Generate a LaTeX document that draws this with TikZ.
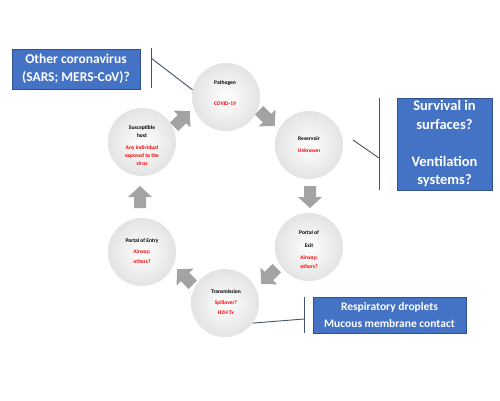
\documentclass[tikz,border=0pt]{standalone}
\usepackage{fontspec}
\setmainfont{Carlito}
\definecolor{boxblue}{HTML}{4472C4}
\definecolor{boxedge}{HTML}{2F528F}
\definecolor{calline}{HTML}{44546A}
\definecolor{arrowgray}{HTML}{A3A3A3}
\definecolor{valred}{HTML}{FF0000}
\begin{document}
\begin{tikzpicture}[x=1pt,y=-1pt,
  stage/.style={circle, minimum size=68pt, inner sep=0pt, shading=radial, inner color=white, outer color=black!11},
  namelbl/.style={inner sep=0pt, align=center, font=\fontsize{5.5}{8}\selectfont\bfseries, text=black},
  vallbl/.style={inner sep=0pt, align=center, font=\fontsize{5.5}{8}\selectfont\bfseries, text=valred},
  callbox/.style={fill=boxblue, draw=boxedge, line width=0.6pt, text=white, align=center, inner sep=0pt},
  calllink/.style={draw=calline, line width=0.9pt},
  cyclearrow/.pic={\fill[arrowgray] (-11,-6) -- (0,-6) -- (0,-12) -- (11,0) -- (0,12) -- (0,6) -- (-11,6) -- cycle;}
]
\useasboundingbox (0,0) rectangle (500,400);
\fill[white] (0,0) rectangle (500,400);

% stages
\node[stage] (path) at (226,97) {};
\node[stage] (res) at (309,145) {};
\node[stage] (exit) at (309,247) {};
\node[stage] (trans) at (225,303) {};
\node[stage] (entry) at (142,252) {};
\node[stage] (host) at (142,142) {};

% labels
\node[namelbl] (pathN) at (225,83) {Pathogen};
\node[vallbl] (pathV) at (225,104) {COVID-19};
\node[namelbl] (resN) at (309,139) {Reservoir};
\node[vallbl] (resV) at (309,151) {Unknown};
\node[namelbl, font=\fontsize{5.5}{13}\selectfont\bfseries] (exitN) at (309,239.5) {Portal of\\Exit};
\node[vallbl, font=\fontsize{5.5}{9}\selectfont\bfseries] (exitV) at (309,262.5) {Airway;\\others?};
\node[namelbl] (transN) at (226,292) {Transmission};
\node[vallbl, font=\fontsize{5.5}{10.5}\selectfont\bfseries] (transV) at (226,307.5) {Spillover?\\H2H Tx};
\node[namelbl] (entryN) at (142,241) {Portal of Entry};
\node[vallbl, font=\fontsize{5.5}{10}\selectfont\bfseries] (entryV) at (142,257) {Airway;\\others?};
\node[namelbl] (hostN) at (142,132) {Susceptible\\host};
\node[vallbl] (hostV) at (142,156) {Any individual\\exposed to the\\virus};

% cycle arrows
\pic[rotate=-45] (a1) at (267,118) {cyclearrow};
\pic[rotate=-90] (a2) at (310,197) {cyclearrow};
\pic[rotate=-135] (a3) at (269,276) {cyclearrow};
\pic[rotate=135] (a4) at (185,277) {cyclearrow};
\pic[rotate=90] (a5) at (140,197) {cyclearrow};
\pic[rotate=45] (a6) at (182,119) {cyclearrow};

% callout: other coronavirus
\node[callbox, minimum width=128pt, minimum height=40pt, font=\fontsize{13.5}{18}\selectfont\bfseries] (other) at (76,69) {Other coronavirus\\(SARS; MERS-CoV)?};
\coordinate (obt) at (151,48);
\coordinate (obb) at (151,88);
\coordinate (obj) at (151,58);
\draw[calllink] (obt) -- (obb);
\draw[calllink] (obj) -- (path.168);

% callout: survival
\node[callbox, minimum width=95pt, minimum height=92pt, font=\fontsize{14.5}{18.5}\selectfont\bfseries] (surv) at (444.5,144) {Survival in\\surfaces?\\\mbox{}\\Ventilation\\systems?};
\coordinate (sbt) at (379,98);
\coordinate (sbb) at (379,190);
\coordinate (sbj) at (379,158);
\coordinate (sfree) at (353,140);
\draw[calllink] (sbt) -- (sbb);
\draw[calllink] (sfree) -- (sbj);

% callout: respiratory
\node[callbox, minimum width=153pt, minimum height=36pt, font=\fontsize{11.5}{17}\selectfont\bfseries] (resp) at (389.5,315) {Respiratory droplets\\Mucous membrane contact};
\coordinate (rbt) at (304,297);
\coordinate (rbb) at (304,333);
\coordinate (rbj) at (304,319);
\draw[calllink] (rbt) -- (rbb);
\draw[calllink] (trans.-36) -- (rbj);
\end{tikzpicture}
\end{document}
